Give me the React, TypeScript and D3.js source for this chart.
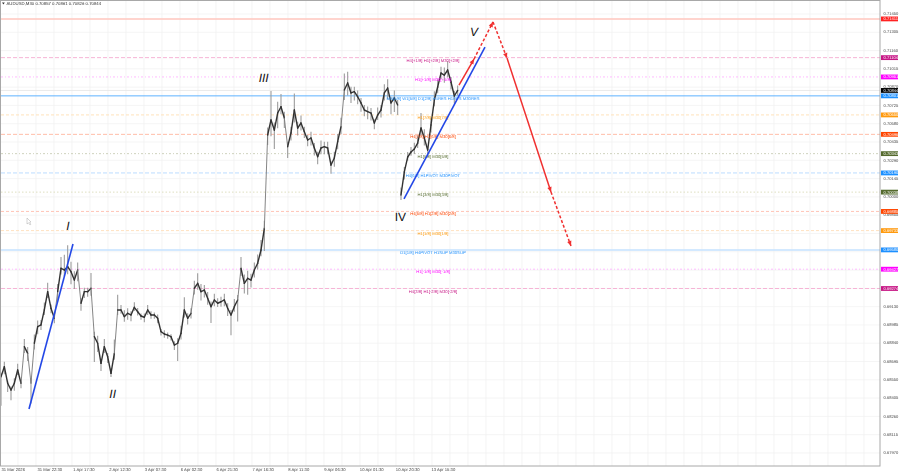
import React from "react";
import * as d3 from "d3";

const title = "AUDUSD,M30  0.70857 0.70861 0.70826 0.70844";

const closes = [
  0.68575,0.68654,0.68523,0.68469,0.68523,0.68628,0.68523,0.68813,0.6876,0.68523,
  0.6884,0.68971,0.68985,0.69104,0.69249,0.69117,0.69038,0.69249,0.69434,0.69421,
  0.69447,0.69407,0.69341,0.69421,0.69157,0.69249,0.69249,0.69276,0.68892,0.6884,
  0.68681,0.68813,0.68733,0.68602,0.6876,0.69104,0.69104,0.69051,0.69077,0.69064,
  0.69125,0.6909,0.69056,0.69046,0.69104,0.69064,0.69064,0.69038,0.68932,0.68913,
  0.68905,0.68892,0.68826,0.6884,0.68919,0.69104,0.69038,0.69077,0.69276,0.69315,
  0.69249,0.69262,0.69196,0.6913,0.69183,0.69157,0.69169,0.69183,0.69117,0.69064,
  0.6913,0.69183,0.69434,0.69315,0.69355,0.69341,0.69421,0.69474,0.69579,0.69751,
  0.70491,0.7061,0.7053,0.70665,0.70715,0.70626,0.70398,0.70507,0.70689,0.70546,
  0.70586,0.70517,0.70451,0.70467,0.70388,0.70319,0.70388,0.70398,0.70388,0.70253,
  0.70309,0.70438,0.70557,0.70848,0.70903,0.70824,0.70834,0.70794,0.70745,0.70689,
  0.70676,0.70665,0.70586,0.70649,0.70689,0.70824,0.70863,0.70745,0.70784,0.70729,
  0.70015,0.70198,0.70316,0.70356,0.7038,0.70427,0.70546,0.70467,0.70372,0.7057,
  0.70768,0.70871,0.70982,0.70966,0.71006,0.70911,0.708,0.70844,
];
const wickUp = [
  30,40,20,30,40,50,30,60,50,40,
  70,50,40,60,70,30,30,60,90,120,
  170,80,70,60,40,30,30,120,40,60,
  30,60,30,40,110,120,40,50,40,30,
  40,30,20,30,40,30,20,30,20,30,
  20,20,30,40,60,100,40,40,60,80,
  60,40,50,40,50,40,40,50,40,40,
  60,40,90,70,60,50,60,70,80,60,
  60,230,60,90,100,50,40,50,130,50,
  60,40,40,50,40,40,60,40,50,30,
  50,60,70,130,90,50,40,50,40,40,
  40,40,30,60,40,70,70,50,60,40,
  60,40,40,40,50,60,120,70,30,60,70,60,50,60,70,40,40,40,
];
const wickDown = [
  230,60,70,80,60,40,40,50,60,160,
  50,60,40,40,50,40,40,70,50,50,
  60,100,70,90,60,50,40,60,200,70,
  60,50,50,30,50,40,30,40,50,50,
  30,30,30,40,40,30,30,40,30,30,
  30,30,40,140,50,60,50,40,50,50,
  70,60,50,130,50,30,40,50,60,160,
  40,170,60,80,130,60,60,50,50,180,
  80,130,150,120,60,80,90,60,100,60,
  60,50,50,60,60,60,50,60,50,70,
  70,60,60,80,100,80,70,60,70,50,
  60,60,50,40,60,60,90,90,110,80,
  40,60,30,30,40,40,60,60,60,60,50,50,50,60,60,60,60,40,
];

const priceTicks = [
  0.7145,0.71305,0.7116,0.71015,0.7087,0.70725,0.7058,0.70435,0.7029,0.70145,0.7,0.69855,
  0.6942,0.69275,0.6913,0.68985,0.6884,0.68695,0.6855,0.68405,0.6826,0.68115,0.6797,
];
const timeLabels = [
  "31 Mar 2026","31 Mar 22:30","1 Apr 17:30","2 Apr 12:30","3 Apr 07:30","6 Apr 02:30",
  "6 Apr 21:30","7 Apr 16:30","8 Apr 11:30","9 Apr 06:30","10 Apr 01:30","10 Apr 20:30","13 Apr 15:30",
];
const timeIndex = [0,10.8,21.5,32.3,43,53.8,64.5,75.3,86,96.8,107.5,118.3,129];

const levelPrices = [0.71411,0.71104,0.70951,0.70801,0.7065,0.70496,0.70343,0.7019,0.70038,0.69885,0.69733,0.6958,0.69427,0.69274];
const levelTexts = [
  "",
  "H4[+1/8] H1[+2/8] M30[+2/8]",
  "H1[+1/8] M30[+1/8]",
  "MN[5/8] W1[5/8] D1[2/8] H4RES H1RES M30RES",
  "H1[7/8] M30[7/8]",
  "H4[7/8] H1[6/8] M30[6/8]",
  "H1[5/8] M30[5/8]",
  "H4[6/8] H1PIVOT M30PIVOT",
  "H1[3/8] M30[3/8]",
  "H4[5/8] H1[2/8] M30[2/8]",
  "H1[1/8] M30[1/8]",
  "D1[1/8] H4PIVOT H1SUP M30SUP",
  "H1[-1/8] M30[-1/8]",
  "H4[3/8] H1[-2/8] M30[-2/8]",
];
const levelBoxColors = ["#ff2020","#c71585","#ff00ff","#1e90ff","#ff9a10","#ff4500","#556b2f","#1e90ff","#556b2f","#ff4500","#ff9a10","#1e90ff","#ff00ff","#c71585"];
const levelLineColors = ["#ffc6be","#f6b4d6","#ffbcff","#5fb2ff","#ffe2ba","#ffbda8","#cfd2bd","#bcdcff","#dedfc0","#ffc4b6","#ffe2c0","#c4e2ff","#ffbcff","#f6b4d6"];
const levelDash = ["","4 2","2 2 1 2","","3 2","4 2","2 2 1 2","4 2","1.5 2","3 2","3 2","","2 2 1 2","4 2"];
const levelWidth = [1.5,1,1,1,1,1,1,1,1,1,1,1.5,1,1];

const currentPrice = 0.70844;

const blueLeg1 = [[8.4,0.68319],[21.6,0.69627]];
const blueLeg2 = [[120.9,0.69984],[145.2,0.71188]];
const redLegs = [
  { dash: "", points: [[137.4,0.70887],[141.9,0.71093]] },
  { dash: "3 2", points: [[141.9,0.71093],[147.6,0.71387]] },
  { dash: "3 2", points: [[147.6,0.71387],[151.8,0.71101]] },
  { dash: "", points: [[151.8,0.71101],[165,0.70039]] },
  { dash: "3 2", points: [[165,0.70039],[171,0.69611]] },
];
const waveLabels = [
  { t: "I", i: 20.1, p: 0.69738, italic: true },
  { t: "II", i: 33.5, p: 0.68406, italic: true },
  { t: "III", i: 78.8, p: 0.70911, italic: true },
  { t: "IV", i: 119.8, p: 0.69811, italic: false },
  { t: "V", i: 141.9, p: 0.71276, italic: true },
];
const gridXStep = 18;
const gridYStep = 18.29;

const W = 900, H = 474;
const L = 1, R = 880, T = 1, B = 466;

export default function App() {
  const x = d3.scaleLinear().domain([0, 264]).range([1, 881]);
  const y = d3.scaleLinear().domain([0.7145, 0.6797]).range([14, 453]);
  const line = d3.line<number[]>().x(d => x(d[0])).y(d => y(d[1]));

  const gridX = d3.range(L + 17, R, gridXStep);
  const gridY = d3.range(14, B, gridYStep);

  const arrow = (a: number[], b: number[], k: string) => {
    const ax = x(a[0]), ay = y(a[1]), bx = x(b[0]), by = y(b[1]);
    const ang = Math.atan2(by - ay, bx - ax);
    const len = 5, wid = 2.2;
    const p = [
      [bx, by],
      [bx - len * Math.cos(ang) + wid * Math.sin(ang), by - len * Math.sin(ang) - wid * Math.cos(ang)],
      [bx - len * Math.cos(ang) - wid * Math.sin(ang), by - len * Math.sin(ang) + wid * Math.cos(ang)],
    ];
    return <polygon key={k} points={p.map(q => q.join(",")).join(" ")} fill="#f03030" />;
  };

  return (
    <svg width={W} height={H} style={{ position: "absolute", left: 0, top: 0, background: "#fff" }}
      fontFamily="'Liberation Sans', Arial, sans-serif" textRendering="geometricPrecision">
      <defs>
        <filter id="soft" x="-2%" y="-2%" width="104%" height="104%">
          <feGaussianBlur stdDeviation="0.18" />
        </filter>
      </defs>
      {gridX.map((g, i) => <line key={i} x1={g} x2={g} y1={T} y2={B} stroke="#efefef" strokeWidth={0.7} />)}
      {gridY.map((g, i) => <line key={i} x1={L} x2={R} y1={g} y2={g} stroke="#f1f1f1" strokeWidth={0.7} />)}

      <line x1={L} x2={R} y1={y(currentPrice)} y2={y(currentPrice)} stroke="#e4e4e4" strokeWidth={0.8} />
      {levelPrices.map((p, i) => (
        <line key={i} x1={L} x2={R} y1={y(p)} y2={y(p)} stroke={levelLineColors[i]}
          strokeWidth={levelWidth[i]} strokeDasharray={levelDash[i]} />
      ))}

      <g filter="url(#soft)">
        {closes.map((c, i) => (
          <line key={i} x1={x(i)} x2={x(i)} y1={y(c + wickUp[i] / 100000)} y2={y(c - wickDown[i] / 100000)}
            stroke="#9c9c9c" strokeWidth={1.1} />
        ))}
        {closes.map((c, i) => {
          if (i === 0 || i === 120) return null;
          const big = Math.abs(y(closes[i - 1]) - y(c)) > 25;
          return (
            <path key={i} d={line([[i - 1, closes[i - 1]], [i, c]]) as string} fill="none"
              stroke={big ? "#777" : "#333"} strokeWidth={big ? 0.9 : 1.4} strokeLinecap="round" />
          );
        })}
      </g>

      <g filter="url(#soft)">
        {levelTexts.map((t, i) => t && (
          <text key={i} x={433} y={y(levelPrices[i]) + 4} textAnchor="middle" fontSize={4.2}
            fill={levelBoxColors[i]}>{t}</text>
        ))}
      </g>

      <path d={line(blueLeg1) as string} stroke="#2347e6" strokeWidth={1.6} fill="none" />
      <path d={line(blueLeg2) as string} stroke="#2347e6" strokeWidth={1.6} fill="none" />
      {redLegs.map((s, i) => (
        <g key={i}>
          <path d={line(s.points) as string} stroke="#f03030" strokeWidth={1.5} fill="none" strokeDasharray={s.dash} />
          {arrow(s.points[0], s.points[1], "a" + i)}
        </g>
      ))}

      {waveLabels.map((w, i) => (
        <text key={i} x={x(w.i)} y={y(w.p)} textAnchor="middle" fontSize={12} fontStyle={w.italic ? "italic" : "normal"}
          fill="#111">{w.t}</text>
      ))}

      <path d="M27 218 L27 224 L28.5 222.8 L30 225 L30.8 224.4 L29.6 222.3 L31 222 Z" fill="#fff" stroke="#aaa" strokeWidth={0.5} />

      <rect x={0.5} y={0.5} width={R - 0.5} height={B - 0.5} fill="none" stroke="#a8a8a8" strokeWidth={1} />

      <g filter="url(#soft)">
        <path d="M2 2.4 L4.8 2.4 L3.4 4.6 Z" fill="#333" />
        <text x={6.5} y={5.2} fontSize={4.3} fill="#333">{title}</text>

        {priceTicks.map((p, i) => (
          <text key={i} x={883.5} y={y(p) + 1.2} fontSize={4.1} fill="#444">{p.toFixed(5)}</text>
        ))}
        {levelPrices.map((p, i) => (
          <g key={i}>
            <rect x={881} y={y(p) - 2.4} width={17} height={4.8} fill={levelBoxColors[i]} />
            <text x={883.5} y={y(p) + 1.4} fontSize={4.1} fill="#fff">{p.toFixed(5)}</text>
          </g>
        ))}
        <rect x={881} y={y(currentPrice) - 2.4} width={17} height={4.8} fill="#000" />
        <text x={883.5} y={y(currentPrice) + 1.4} fontSize={4.1} fill="#fff">{currentPrice.toFixed(5)}</text>

        {timeLabels.map((t, i) => (
          <text key={i} x={x(timeIndex[i]) + 0.5} y={471} fontSize={4.2} fill="#444">{t}</text>
        ))}
      </g>
    </svg>
  );
}
